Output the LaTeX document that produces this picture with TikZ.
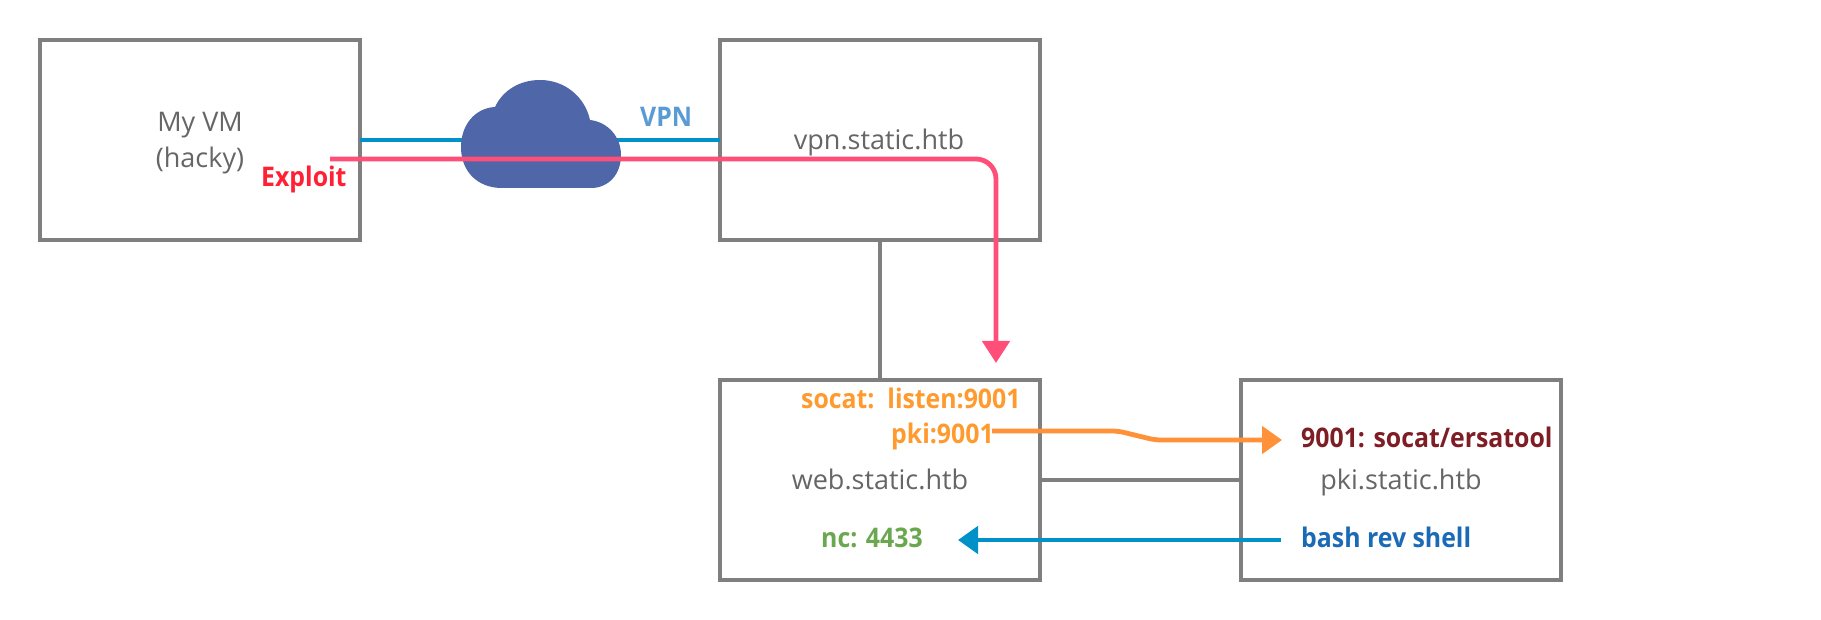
\documentclass[tikz,border=0pt]{standalone}
\usepackage{fontspec}
\setmainfont{Open Sans}[BoldFeatures={FakeStretch=0.92}]
\usetikzlibrary{arrows.meta}
\definecolor{boxgray}{HTML}{7F7F7F}
\definecolor{txtgray}{HTML}{666666}
\definecolor{linkblue}{HTML}{0091C9}
\definecolor{pinkln}{HTML}{FF4F78}
\definecolor{orangeln}{HTML}{FF9138}
\definecolor{cloudblue}{HTML}{4F66A8}
\definecolor{exploitred}{HTML}{FF2033}
\definecolor{vpnblue}{HTML}{5B9BD5}
\definecolor{socatorange}{HTML}{FF9A2E}
\definecolor{darkred}{HTML}{7F1D25}
\definecolor{ncgreen}{HTML}{6AA84F}
\definecolor{bashblue}{HTML}{1B6AB5}
\tikzset{
  x=1pt,y=-1pt,
  hostbox/.style={draw=boxgray,line width=4.5pt,minimum width=320pt,minimum height=200pt,inner sep=0pt,outer sep=0pt,anchor=north west,line join=miter},
  plain/.style={font=\fontsize{27}{31}\selectfont,text=txtgray,inner sep=0pt,anchor=base},
  strong/.style={font=\fontsize{27}{31}\selectfont\bfseries,inner sep=0pt,anchor=base west},
  hostlink/.style={draw=boxgray,line width=4.5pt},
  vpnlink/.style={draw=linkblue,line width=4.5pt},
  flow/.style={line width=4.8pt},
}
\begin{document}
\begin{tikzpicture}
\useasboundingbox (0,0) rectangle (1821,620);
\fill[white] (0,0) rectangle (1821,620);
\node[hostbox] (vm) at (40,40) {};
\node[hostbox] (vpn) at (720,40) {};
\node[hostbox] (web) at (720,380) {};
\node[hostbox] (pki) at (1241,380) {};
\draw[vpnlink] (vm.east) -- (vpn.west);
\draw[hostlink] (vpn.south) -- (web.north);
\draw[hostlink] (web.east) -- (pki.west);
\fill[cloudblue] (502,188) .. controls (478,188) and (461,172) .. (461,147)
  .. controls (461,125) and (475,108) .. (495,107)
  .. controls (503,90) and (520,80) .. (540,80)
  .. controls (565,80) and (585,97) .. (590,120)
  .. controls (608,122) and (621,137) .. (621,155)
  .. controls (621,175) and (608,188) .. (591,188) -- cycle;
\node[plain] (vmname) at (200,132) {My VM};
\node[plain] (vmuser) at (200,168) {(hacky)};
\node[strong,text=exploitred] (exploit) at (261,187) {Exploit};
\node[strong,text=vpnblue] (vpnlabel) at (640,127) {VPN};
\node[plain] (vpnname) at (879,150) {vpn.static.htb};
\node[strong,text=socatorange] (socat) at (801,408) {socat:\ \ listen:9001};
\node[strong,text=socatorange] (pkiport) at (891,443) {pki:9001};
\node[plain] (webname) at (880,489) {web.static.htb};
\node[strong,text=ncgreen] (nc) at (821,547) {nc: 4433};
\node[strong,text=darkred] (ersa) at (1301,447) {9001: socat/ersatool};
\node[plain] (pkiname) at (1401,489) {pki.static.htb};
\node[strong,text=bashblue] (bash) at (1301,547) {bash rev shell};
\coordinate (exploitstart) at (330,159);
\coordinate (pinktip) at (996,363);
\coordinate (orangestart) at (992,431);
\coordinate (orangetip) at (1282,440);
\coordinate (bluestart) at (1281,540);
\coordinate (bluetip) at (958,540);
\draw[flow,draw=pinkln,rounded corners=20pt,-{Triangle[length=22pt,width=27pt,fill=pinkln]}] (exploitstart) -- (exploitstart -| pinktip) -- (pinktip);
\draw[flow,draw=orangeln,rounded corners=6pt,-{Triangle[length=20pt,width=27pt,fill=orangeln]}] (orangestart) -- (1118,431) -- (1155,440) -- (orangetip);
\draw[flow,draw=linkblue,-{Triangle[length=20pt,width=27pt,fill=linkblue]}] (bluestart) -- (bluetip);
\end{tikzpicture}
\end{document}
